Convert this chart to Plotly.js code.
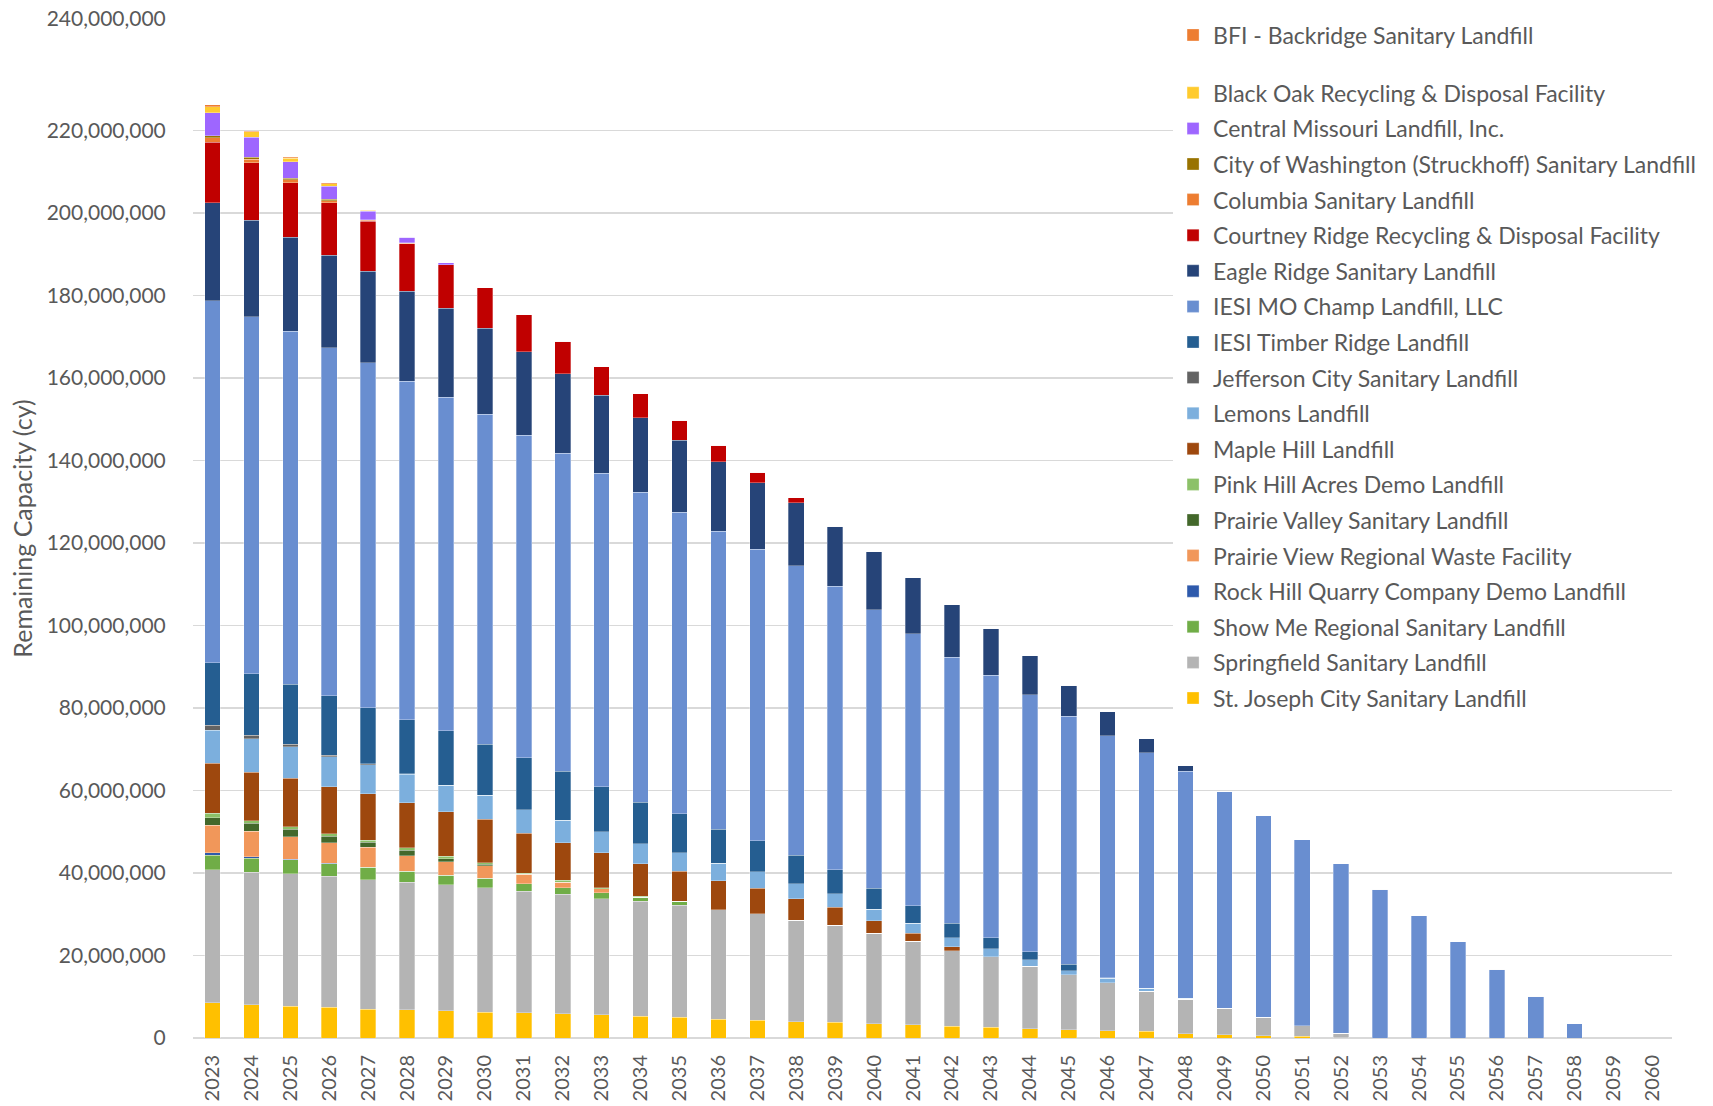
<!DOCTYPE html>
<html>
<head>
<meta charset="utf-8">
<script src="https://cdn.plot.ly/plotly-3.0.1.min.js"></script>
<style>
html,body{margin:0;padding:0;background:#ffffff;}
#chart{width:1713px;height:1106px;}
</style>
</head>
<body>
<div id="chart"></div>
<script>
// Years (categories)
const years = ['2023','2024','2025','2026','2027','2028','2029','2030','2031','2032',
               '2033','2034','2035','2036','2037','2038','2039','2040','2041','2042',
               '2043','2044','2045','2046','2047','2048','2049','2050','2051','2052',
               '2053','2054','2055','2056','2057','2058','2059','2060'];

// Remaining capacity by landfill, in millions of cubic yards
const stJoseph      = [8.5,8.1,7.7,7.5,7.0,6.85,6.6,6.3,6.1,5.9,5.6,5.25,5.0,4.6,4.3,4.0,3.8,3.45,3.2,2.8,2.6,2.25,2.0,1.75,1.6,1.0,0.8,0.55,0.4,0.1,0,0,0,0,0,0,0,0];
const springfield   = [32.3,32.1,32.1,31.7,31.3,30.9,30.5,30.1,29.5,28.9,28.2,27.9,27.2,26.5,25.8,24.5,23.5,21.9,20.2,18.4,17.1,15.1,13.3,11.7,9.7,8.4,6.45,4.5,2.6,1.05,0,0,0,0,0,0,0,0];
const showMe        = [3.5,3.4,3.35,3.0,3.1,2.65,2.4,2.35,1.85,1.6,1.4,1.0,0.95,0,0,0,0,0,0,0,0,0,0,0,0,0,0,0,0,0,0,0,0,0,0,0,0,0];
const rockHill      = [0.6,0.3,0.15,0.1,0,0,0,0,0,0,0,0,0,0,0,0,0,0,0,0,0,0,0,0,0,0,0,0,0,0,0,0,0,0,0,0,0,0];
const prairieView   = [6.7,6.2,5.5,5.0,4.85,3.8,3.2,3.05,2.2,1.4,1.0,0,0,0,0,0,0,0,0,0,0,0,0,0,0,0,0,0,0,0,0,0,0,0,0,0,0,0];
const prairieValley = [1.8,2.0,1.8,1.6,1.2,1.3,0.75,0.3,0,0,0,0,0,0,0,0,0,0,0,0,0,0,0,0,0,0,0,0,0,0,0,0,0,0,0,0,0,0];
const pinkHill      = [1.05,0.55,0.65,0.65,0.5,0.65,0.65,0.4,0.3,0.4,0.2,0.2,0,0,0,0,0,0,0,0,0,0,0,0,0,0,0,0,0,0,0,0,0,0,0,0,0,0];
const mapleHill     = [12.1,11.8,11.7,11.3,11.3,10.9,10.7,10.5,9.7,9.1,8.5,7.9,7.3,7.0,6.15,5.2,4.45,3.05,2.0,0.95,0,0,0,0,0,0,0,0,0,0,0,0,0,0,0,0,0,0];
const lemons        = [8.1,8.1,7.6,7.3,7.0,6.9,6.5,5.8,5.65,5.5,5.15,4.85,4.5,4.2,4.0,3.7,3.2,2.75,2.4,2.2,1.95,1.6,1.05,1.0,0.8,0.2,0,0,0,0,0,0,0,0,0,0,0,0];
const jefferson     = [1.1,0.8,0.65,0.4,0.2,0.1,0,0,0,0,0,0,0,0,0,0,0,0,0,0,0,0,0,0,0,0,0,0,0,0,0,0,0,0,0,0,0,0];
const timberRidge   = [15.2,14.9,14.5,14.4,13.65,13.1,13.2,12.4,12.6,11.9,10.85,10.1,9.45,8.3,7.6,6.9,5.8,5.1,4.2,3.5,2.65,2.0,1.55,0.2,0,0,0,0,0,0,0,0,0,0,0,0,0,0];
const champ         = [87.7,86.6,85.6,84.4,83.6,82.1,80.8,80.0,78.2,77.0,76.0,75.1,73.0,72.2,70.6,70.2,68.7,67.6,66.0,64.5,63.6,62.2,60.1,58.6,57.0,55.0,52.5,48.8,45.0,41.1,36.1,29.6,23.3,16.7,10.1,3.4,0,0];
const eagleRidge    = [23.8,23.4,22.8,22.4,22.1,21.8,21.6,20.8,20.3,19.3,18.9,18.0,17.45,16.9,16.2,15.2,14.55,14.0,13.6,12.7,11.4,9.45,7.5,5.85,3.4,1.45,0,0,0,0,0,0,0,0,0,0,0,0];
const courtney      = [14.7,13.9,13.2,12.7,12.2,11.5,10.5,9.9,8.9,7.85,6.9,5.9,4.85,3.95,2.5,1.2,0,0,0,0,0,0,0,0,0,0,0,0,0,0,0,0,0,0,0,0,0,0];
const columbia      = [1.1,0.9,0.75,0.55,0.25,0.15,0,0,0,0,0,0,0,0,0,0,0,0,0,0,0,0,0,0,0,0,0,0,0,0,0,0,0,0,0,0,0,0];
const washington    = [0.5,0.4,0.3,0.25,0.1,0.05,0,0,0,0,0,0,0,0,0,0,0,0,0,0,0,0,0,0,0,0,0,0,0,0,0,0,0,0,0,0,0,0];
const centralMO     = [5.5,4.85,4.0,3.2,2.1,1.4,0.55,0,0,0,0,0,0,0,0,0,0,0,0,0,0,0,0,0,0,0,0,0,0,0,0,0,0,0,0,0,0,0];
const blackOak      = [1.45,1.35,0.9,0.65,0.2,0,0,0,0,0,0,0,0,0,0,0,0,0,0,0,0,0,0,0,0,0,0,0,0,0,0,0,0,0,0,0,0,0];
const bfi           = [0.55,0.2,0.2,0.15,0,0,0,0,0,0,0,0,0,0,0,0,0,0,0,0,0,0,0,0,0,0,0,0,0,0,0,0,0,0,0,0,0,0];

// Y-axis tick labels (values shown on the axis)
const yTickLabelValues = [0,20e6,40e6,60e6,80e6,100e6,120e6,140e6,160e6,180e6,200e6,220e6,240e6];

// Series, bottom of stack first
const series = [
  {name:'St. Joseph City Sanitary Landfill',                 data:stJoseph,      color:'#FFC000'},
  {name:'Springfield Sanitary Landfill',                     data:springfield,   color:'#B4B4B4'},
  {name:'Show Me Regional Sanitary Landfill',                data:showMe,        color:'#70AD47'},
  {name:'Rock Hill Quarry Company Demo Landfill',            data:rockHill,      color:'#2E5AAC'},
  {name:'Prairie View Regional Waste Facility',              data:prairieView,   color:'#F1975A'},
  {name:'Prairie Valley Sanitary Landfill',                  data:prairieValley, color:'#43682B'},
  {name:'Pink Hill Acres Demo Landfill',                     data:pinkHill,      color:'#8CC168'},
  {name:'Maple Hill Landfill',                               data:mapleHill,     color:'#9E480E'},
  {name:'Lemons Landfill',                                   data:lemons,        color:'#7CAFDD'},
  {name:'Jefferson City Sanitary Landfill',                  data:jefferson,     color:'#636363'},
  {name:'IESI Timber Ridge Landfill',                        data:timberRidge,   color:'#255E91'},
  {name:'IESI MO Champ Landfill, LLC',                       data:champ,         color:'#698ED0'},
  {name:'Eagle Ridge Sanitary Landfill',                     data:eagleRidge,    color:'#264478'},
  {name:'Courtney Ridge Recycling & Disposal Facility',      data:courtney,      color:'#C00000'},
  {name:'Columbia Sanitary Landfill',                        data:columbia,      color:'#ED7D31'},
  {name:'City of Washington (Struckhoff) Sanitary Landfill', data:washington,    color:'#997300'},
  {name:'Central Missouri Landfill, Inc.',                   data:centralMO,     color:'#9E66FF'},
  {name:'Black Oak Recycling & Disposal Facility',           data:blackOak,      color:'#FFCB2E'},
  {name:'BFI - Backridge Sanitary Landfill',                 data:bfi,           color:'#ED7D31'}
];

const FONT = 'Lato, "Open Sans", "Liberation Sans", sans-serif';
const GREY = '#595959';

const traces = series.map((s, i) => ({
  type: 'bar',
  name: s.name,
  x: years,
  y: s.data.map(v => v * 1e6),
  marker: {color: s.color, line: {color: 'rgba(255,255,255,0.6)', width: 0.5}},
  legend: s.name.startsWith('BFI') ? 'legend2' : 'legend',
  legendgroup: 'g' + i,
  legendrank: 1000 - i,
  hoverinfo: 'skip'
}));

const fmt = v => v.toLocaleString('en-US');
// In the reference the top gridline (240,000,000) sits higher than the regular 20M step
const yTickVals = yTickLabelValues.map(v => v === 240e6 ? 247e6 : v);

const layout = {
  width: 1713, height: 1106,
  paper_bgcolor: '#ffffff', plot_bgcolor: '#ffffff',
  barmode: 'stack',
  bargap: 0.6,
  margin: {l: 193, r: 41, t: 19, b: 68, autoexpand: false},
  font: {family: FONT, color: GREY},
  xaxis: {
    type: 'category',
    tickangle: -90,
    tickfont: {family: FONT, size: 20, color: GREY},
    ticks: 'outside', ticklen: 8, tickcolor: 'rgba(0,0,0,0)',
    showgrid: false, showline: false, zeroline: false,
    automargin: false
  },
  yaxis: {
    range: [0, 247e6],
    tickvals: yTickVals,
    ticktext: yTickLabelValues.map(fmt),
    tickfont: {family: FONT, size: 21, color: GREY},
    ticks: 'outside', ticklen: 22, tickcolor: 'rgba(0,0,0,0)',
    showgrid: true, gridcolor: '#D9D9D9', gridwidth: 1.5,
    zeroline: true, zerolinecolor: '#D9D9D9', zerolinewidth: 1.5,
    showline: false,
    automargin: false,
    title: {text: 'Remaining Capacity (cy)', font: {family: FONT, size: 25, color: GREY}, standoff: 6}
  },
  legend: {
    traceorder: 'grouped',
    tracegroupgap: 2.7,
    maxheight: 1000,
    xref: 'container', yref: 'container',
    x: 0.6848, y: 0.9355, xanchor: 'left', yanchor: 'top',
    bgcolor: '#ffffff', borderwidth: 0,
    font: {family: FONT, size: 23, color: GREY}
  },
  legend2: {
    xref: 'container', yref: 'container',
    x: 0.6848, y: 0.9878, xanchor: 'left', yanchor: 'top',
    bgcolor: '#ffffff', borderwidth: 0,
    font: {family: FONT, size: 23, color: GREY}
  },
  showlegend: true
};

Plotly.newPlot('chart', traces, layout, {displayModeBar: false, staticPlot: true});
</script>
</body>
</html>
